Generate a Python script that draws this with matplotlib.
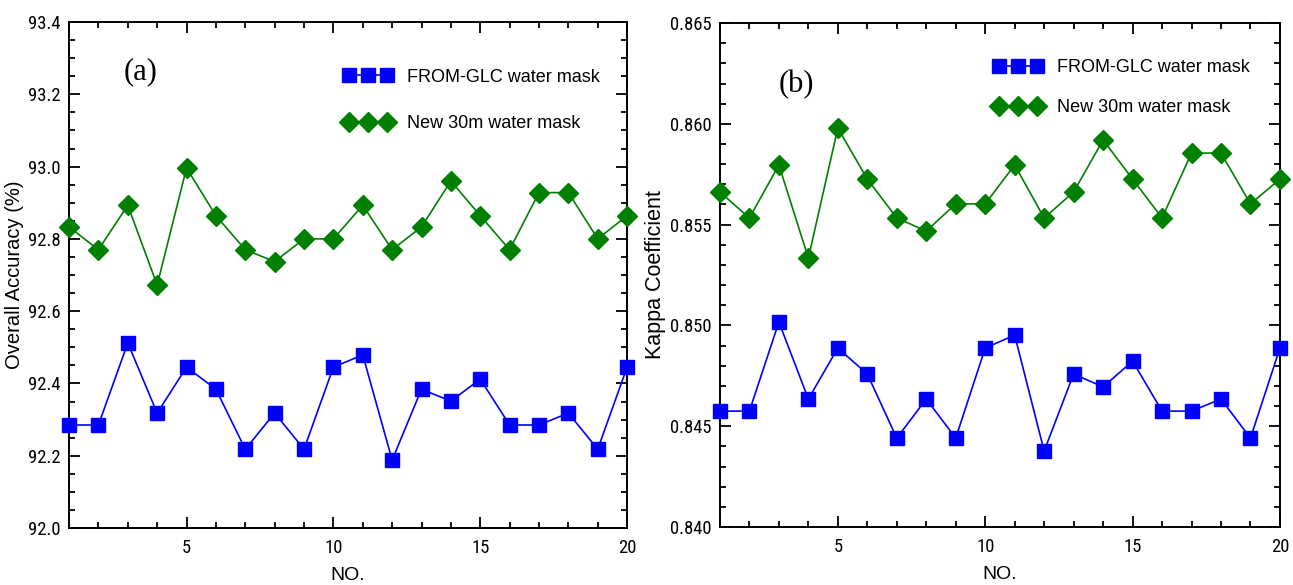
import numpy as np
import matplotlib
matplotlib.use('Agg')
import matplotlib.pyplot as plt
import matplotlib.font_manager as fm
from matplotlib.textpath import TextPath
from matplotlib.ticker import MultipleLocator, FormatStrFormatter

plt.rcParams['font.family'] = ['Liberation Sans', 'DejaVu Sans']

# the tick labels in the reference use a narrow sans font: pick the narrowest of the usual ones
plain = {'Liberation Sans', 'DejaVu Sans', 'Noto Sans', 'Roboto', 'Open Sans', 'Lato', 'Inter'}
tick_fp = None
best = None
for f in fm.fontManager.ttflist:
    n = f.name
    ok = n in plain or (any(n.startswith(p) for p in plain) and ('Condensed' in n or 'Narrow' in n))
    if not ok or f.style != 'normal' or f.weight not in (400, 'normal', 'regular', 'book'):
        continue
    try:
        w = TextPath((0, 0), '93.4', size=10, prop=fm.FontProperties(fname=f.fname)).get_extents().width
    except Exception:
        continue
    if best is None or w < best:
        best, tick_fp = w, f.fname

no = np.arange(1, 21)

# (a) overall accuracy (%)
oa_glc = [92.285, 92.285, 92.512, 92.318, 92.445, 92.384, 92.218, 92.318, 92.218, 92.445,
          92.479, 92.188, 92.384, 92.351, 92.412, 92.285, 92.285, 92.318, 92.218, 92.445]
oa_new = [92.833, 92.770, 92.893, 92.672, 92.996, 92.864, 92.770, 92.737, 92.800, 92.800,
          92.893, 92.770, 92.833, 92.960, 92.864, 92.770, 92.928, 92.928, 92.800, 92.864]

# (b) kappa coefficient
kp_glc = [0.84575, 0.84575, 0.85017, 0.84635, 0.84888, 0.84759, 0.84441, 0.84635, 0.84441, 0.84888,
          0.84952, 0.84377, 0.84759, 0.84695, 0.84823, 0.84575, 0.84575, 0.84635, 0.84441, 0.84888]
kp_new = [0.85662, 0.85533, 0.85796, 0.85334, 0.85979, 0.85726, 0.85533, 0.85468, 0.85603, 0.85603,
          0.85796, 0.85533, 0.85662, 0.85920, 0.85726, 0.85533, 0.85855, 0.85855, 0.85603, 0.85726]

labels = ['FROM-GLC water mask', 'New 30m water mask']
blue = '#0000FF'
green = '#008000'

# tick label size: about 14pt, but not wider than ~31px for "93.4"
tick_size = 13.5
if best:
    tick_size = min(14.5, 31 * 0.72 / best * 10)

fig = plt.figure(figsize=(12.93, 5.85), dpi=100)
ax1 = fig.add_axes([0.0534, 0.0974, 0.4316, 0.865])
ax2 = fig.add_axes([0.5568, 0.0991, 0.4331, 0.8615])


def style(ax, ylo, yhi, ymaj, ymin, fmt):
    ax.set_xlim(1, 20)
    ax.set_ylim(ylo, yhi)
    ax.xaxis.set_major_locator(MultipleLocator(5))
    ax.xaxis.set_minor_locator(MultipleLocator(1))
    ax.yaxis.set_major_locator(MultipleLocator(ymaj))
    ax.yaxis.set_minor_locator(MultipleLocator(ymin))
    ax.yaxis.set_major_formatter(FormatStrFormatter(fmt))
    ax.tick_params(which='both', direction='in', top=True, right=True, labelsize=tick_size, width=1.3)
    ax.tick_params(which='major', length=8, pad=6)
    ax.tick_params(which='minor', length=4)
    ax.tick_params(axis='x', which='major', pad=8)
    if tick_fp:
        for lab in ax.get_xticklabels() + ax.get_yticklabels():
            lab.set_fontproperties(fm.FontProperties(fname=tick_fp, size=tick_size))
    for s in ax.spines.values():
        s.set_linewidth(1.4)
    ax.set_xlabel('NO.', fontsize=14, labelpad=7)


ax1.plot(no, oa_glc, color=blue, marker='s', ms=9.5, lw=1.2, label=labels[0], clip_on=False, zorder=3)
ax1.plot(no, oa_new, color=green, marker='D', ms=10, lw=1.2, label=labels[1], clip_on=False, zorder=3)
style(ax1, 92.0, 93.4, 0.2, 0.05, '%.1f')
ax1.set_ylabel('Overall Accuracy (%)', fontsize=14.5)
ax1.yaxis.set_label_coords(-0.08, 0.5)
ax1.text(0.097, 0.901, '(a)', transform=ax1.transAxes, fontsize=22, va='center',
         family='Liberation Serif')
ax1.legend(loc='upper left', bbox_to_anchor=(0.463, 0.94), frameon=False, numpoints=3,
           handlelength=2.7, fontsize=13, labelspacing=1.64, handletextpad=0.8)

ax2.plot(no, kp_glc, color=blue, marker='s', ms=9.5, lw=1.2, label=labels[0], clip_on=False, zorder=3)
ax2.plot(no, kp_new, color=green, marker='D', ms=10, lw=1.2, label=labels[1], clip_on=False, zorder=3)
style(ax2, 0.840, 0.865, 0.005, 0.001, '%.3f')
ax2.set_ylabel('Kappa Coefficient', fontsize=15.5)
ax2.yaxis.set_label_coords(-0.097, 0.5)
ax2.text(0.104, 0.877, '(b)', transform=ax2.transAxes, fontsize=22, va='center',
         family='Liberation Serif')
ax2.legend(loc='upper left', bbox_to_anchor=(0.46, 0.96), frameon=False, numpoints=3,
           handlelength=2.7, fontsize=13, labelspacing=1.25, handletextpad=0.8)

fig.savefig('out.png', dpi=100)
